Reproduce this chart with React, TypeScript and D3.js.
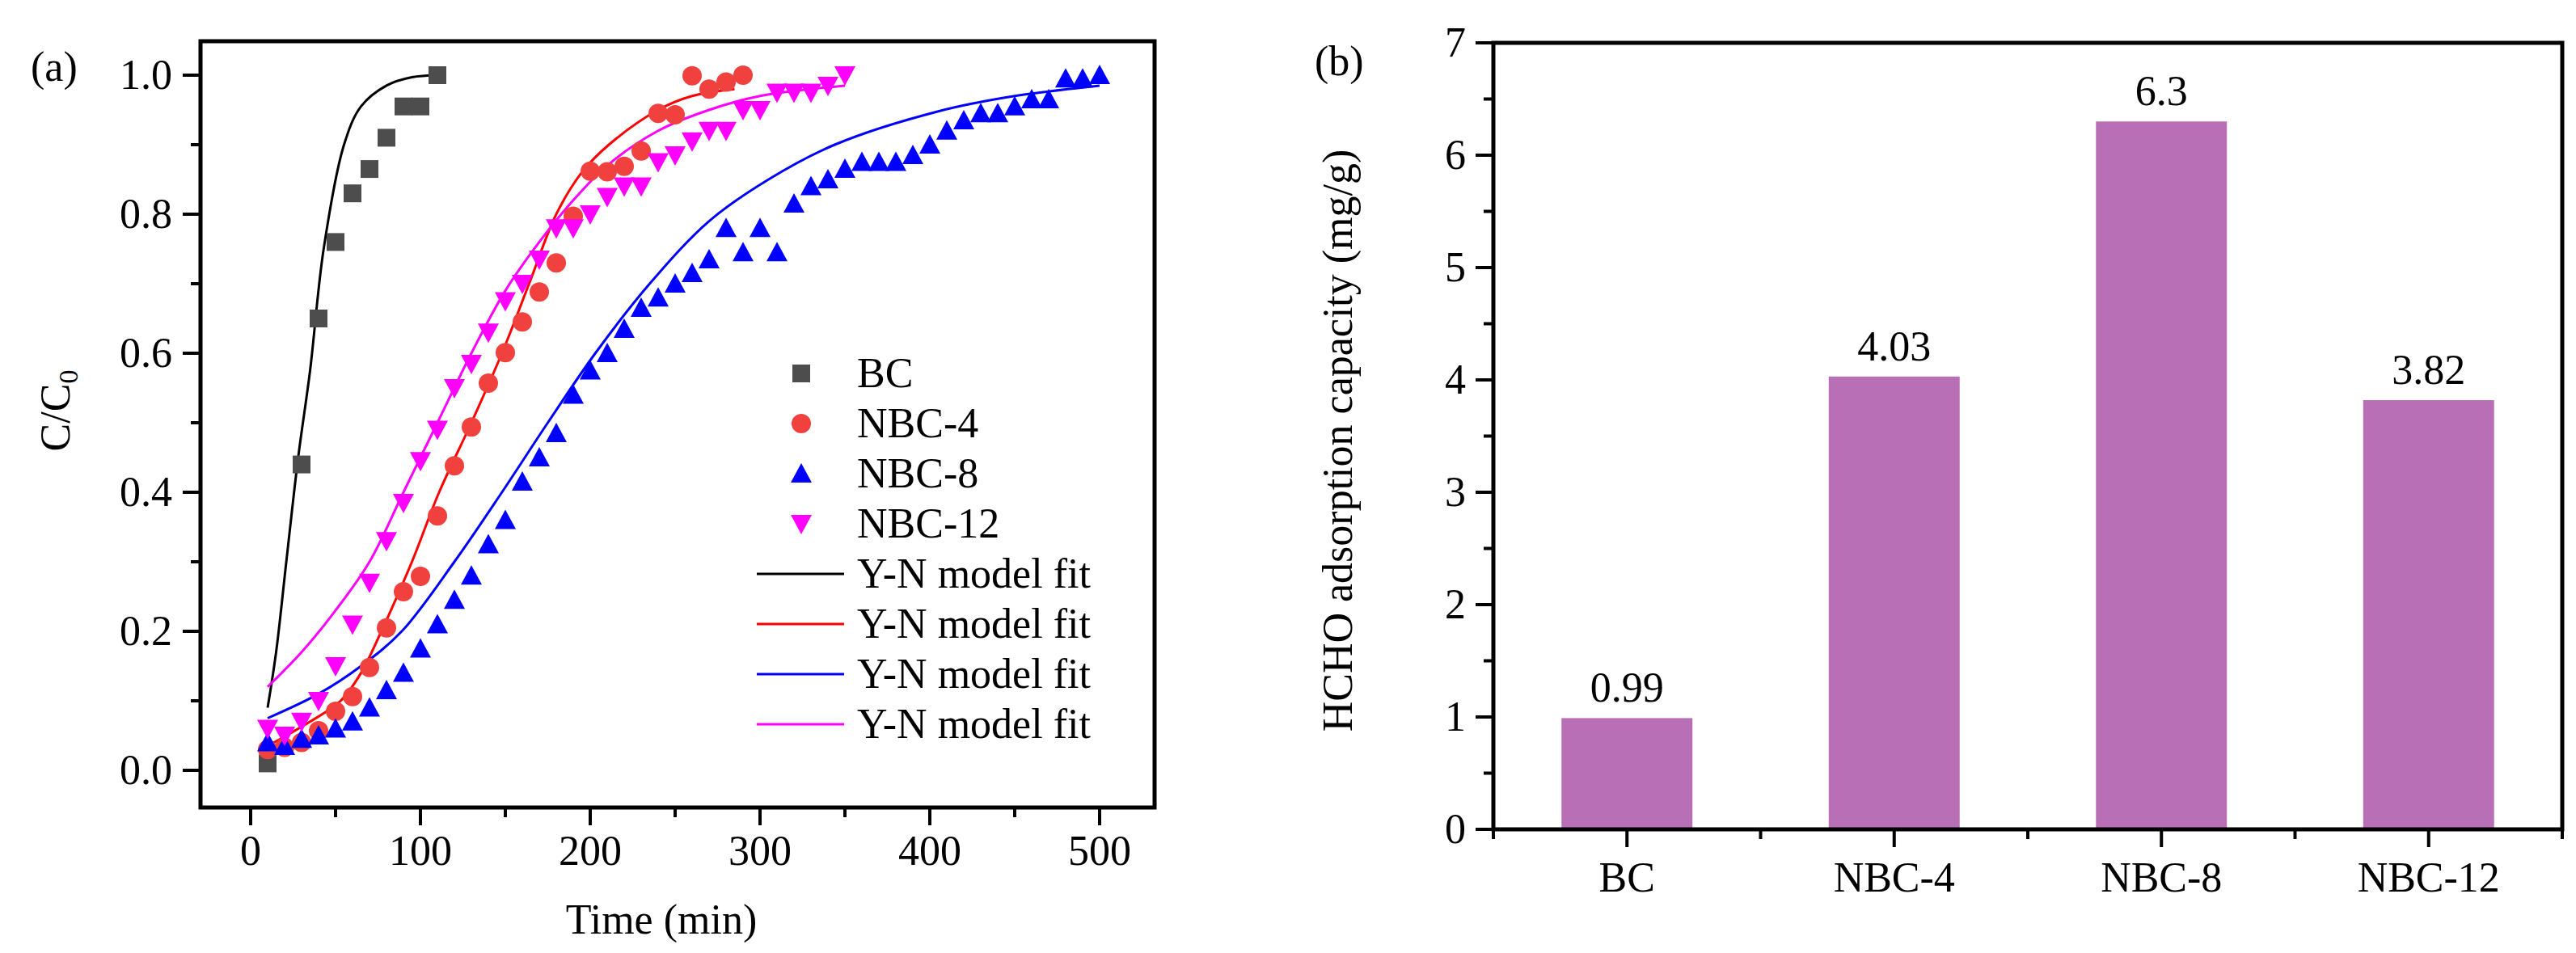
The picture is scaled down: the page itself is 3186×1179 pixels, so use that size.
import React from "react"
import * as d3 from "d3"

// ---- panel (a) data ----
const bcT = [10, 30, 40, 50, 60, 70, 80, 90, 100, 110]
const bcV = [0.01, 0.44, 0.65, 0.76, 0.83, 0.865, 0.91, 0.955, 0.955, 1.0]

const nbc4T = [10, 20, 30, 40, 50, 60, 70, 80, 90, 100, 110, 120, 130, 140, 150, 160, 170, 180, 190, 200, 210, 220, 230, 240, 250, 260, 270, 280, 290]
const nbc4V = [0.03, 0.033, 0.04, 0.057, 0.085, 0.106, 0.148, 0.205, 0.257, 0.279, 0.366, 0.438, 0.494, 0.557, 0.601, 0.645, 0.688, 0.73, 0.797, 0.862, 0.861, 0.869, 0.891, 0.945, 0.943, 0.999, 0.98, 0.99, 1.0]

const nbc8T = d3.range(10, 501, 10)
const nbc8V = [0.04, 0.035, 0.045, 0.05, 0.06, 0.07, 0.09, 0.115, 0.14, 0.175, 0.21, 0.245, 0.28, 0.325, 0.36, 0.415, 0.45, 0.485, 0.54, 0.575, 0.6, 0.635, 0.665, 0.68, 0.7, 0.715, 0.735, 0.78, 0.745, 0.78, 0.745, 0.815, 0.84, 0.85, 0.865, 0.875, 0.875, 0.875, 0.885, 0.9, 0.92, 0.935, 0.945, 0.945, 0.955, 0.965, 0.965, 0.995, 0.995, 1.0]

const nbc12T = d3.range(10, 351, 10)
const nbc12V = [0.06, 0.05, 0.07, 0.1, 0.15, 0.21, 0.27, 0.33, 0.385, 0.445, 0.49, 0.55, 0.585, 0.63, 0.675, 0.7, 0.735, 0.78, 0.78, 0.8, 0.825, 0.84, 0.84, 0.875, 0.885, 0.905, 0.92, 0.92, 0.95, 0.95, 0.975, 0.975, 0.975, 0.985, 1.0]

// fitted curves
const fitBC: [number, number][] = [[10, 0.09], [15, 0.17], [21, 0.3], [28, 0.45], [35, 0.575], [43, 0.75], [55, 0.9], [65, 0.955], [80, 0.985], [95, 0.997], [110, 1.0]]
const fit4: [number, number][] = [[10, 0.035], [21, 0.05], [35, 0.07], [53, 0.1], [65, 0.14], [77, 0.2], [95, 0.3], [111, 0.4], [130, 0.5], [148, 0.6], [164, 0.7], [180, 0.8], [195, 0.86], [211, 0.9], [240, 0.95], [260, 0.97], [285, 0.98]]
const fit8: [number, number][] = [[10, 0.075], [40, 0.11], [65, 0.15], [89, 0.2], [120, 0.3], [148, 0.4], [175, 0.5], [203, 0.6], [235, 0.7], [270, 0.79], [305, 0.85], [344, 0.9], [405, 0.948], [450, 0.97], [500, 0.985]]
const fit12: [number, number][] = [[10, 0.12], [30, 0.17], [50, 0.23], [70, 0.3], [90, 0.4], [110, 0.5], [130, 0.6], [150, 0.69], [170, 0.76], [190, 0.82], [210, 0.87], [240, 0.92], [270, 0.95], [300, 0.97], [350, 0.985]]

const xTicksA = [0, 100, 200, 300, 400, 500]
const yTicksA = [0, 0.2, 0.4, 0.6, 0.8, 1.0]

// ---- panel (b) data ----
const samples = ["BC", "NBC-4", "NBC-8", "NBC-12"]
const capacity = [0.99, 4.03, 6.3, 3.82]
const capLabels = ["0.99", "4.03", "6.3", "3.82"]
const yTicksB = [0, 1, 2, 3, 4, 5, 6, 7]

const FONT = "'Liberation Serif', 'Times New Roman', serif"
const FS = 52

type Shape = "square" | "circle" | "up" | "down"

function Marker({ x, y, shape, color }: { x: number; y: number; shape: Shape; color: string }) {
  const s = 11
  if (shape === "square") return <rect x={x - s} y={y - s} width={2 * s} height={2 * s} fill={color} />
  if (shape === "circle") return <circle cx={x} cy={y} r={s + 1} fill={color} />
  if (shape === "up") return <path d={`M${x},${y - s - 2}L${x + s + 2},${y + s}L${x - s - 2},${y + s}Z`} fill={color} />
  return <path d={`M${x},${y + s + 2}L${x + s + 2},${y - s}L${x - s - 2},${y - s}Z`} fill={color} />
}

export default function App() {
  // panel a
  const boxA = { l: 240, r: 1420, t: 43, b: 991 }
  const xA = d3.scaleLinear().domain([0, 500]).range([302, 1352])
  const yA = d3.scaleLinear().domain([0, 1]).range([945, 85])
  const line = d3.line<[number, number]>().x(d => xA(d[0])).y(d => yA(d[1])).curve(d3.curveCatmullRom)

  const series = [
    { name: "BC", t: bcT, v: bcV, shape: "square" as Shape, color: "#4d4d4d" },
    { name: "NBC-4", t: nbc4T, v: nbc4V, shape: "circle" as Shape, color: "#f0413e" },
    { name: "NBC-8", t: nbc8T, v: nbc8V, shape: "up" as Shape, color: "#0000ff" },
    { name: "NBC-12", t: nbc12T, v: nbc12V, shape: "down" as Shape, color: "#ff00ff" },
  ]
  const fits = [
    { d: fitBC, color: "#000000" },
    { d: fit4, color: "#ff0000" },
    { d: fit8, color: "#0000ff" },
    { d: fit12, color: "#ff00ff" },
  ]

  // panel b
  const boxB = { l: 1839, r: 3161, t: 45, b: 1018 }
  const xB = d3.scalePoint<string>().domain(samples).range([boxB.l, boxB.r]).padding(0.5)
  const yB = d3.scaleLinear().domain([0, 7]).range([1018, 45])
  const barW = xB.step() * 0.49

  return (
    <svg width={3186} height={1179} style={{ display: "block", background: "#fff" }} fontFamily={FONT}>
      {/* ===== panel (a) ===== */}
      <text x={30} y={92} fontSize={FS}>(a)</text>
      {fits.map((f, i) => (
        <path key={i} d={line(f.d) || ""} fill="none" stroke={f.color} strokeWidth={3} />
      ))}
      {series.map(s =>
        s.t.map((t, i) => <Marker key={s.name + i} x={xA(t)} y={yA(s.v[i])} shape={s.shape} color={s.color} />)
      )}
      <rect x={boxA.l} y={boxA.t} width={boxA.r - boxA.l} height={boxA.b - boxA.t} fill="none" stroke="#000" strokeWidth={5} />
      {d3.range(0, 501, 50).map(t => (
        <line key={"xm" + t} x1={xA(t)} x2={xA(t)} y1={boxA.b} y2={boxA.b + (t % 100 === 0 ? 22 : 12)} stroke="#000" strokeWidth={4} />
      ))}
      {xTicksA.map(t => (
        <text key={"xl" + t} x={xA(t)} y={1062} fontSize={FS} textAnchor="middle">{t}</text>
      ))}
      {d3.range(0, 1.01, 0.1).map(v => (
        <line key={"ym" + v} x1={boxA.l} x2={boxA.l - (Math.round(v * 10) % 2 === 0 ? 22 : 12)} y1={yA(v)} y2={yA(v)} stroke="#000" strokeWidth={4} />
      ))}
      {yTicksA.map(v => (
        <text key={"yl" + v} x={205} y={yA(v) + 17} fontSize={FS} textAnchor="end">{v.toFixed(1)}</text>
      ))}
      <text x={810} y={1147} fontSize={FS} textAnchor="middle">Time (min)</text>
      <text transform="translate(78,500) rotate(-90)" fontSize={FS} textAnchor="middle">
        C/C<tspan fontSize={34} dy={10}>0</tspan>
      </text>
      {/* legend */}
      {series.map((s, i) => (
        <g key={"lg" + s.name}>
          <Marker x={983} y={454 + i * 62} shape={s.shape} color={s.color} />
          <text x={1052} y={454 + i * 62 + 17} fontSize={FS}>{s.name}</text>
        </g>
      ))}
      {fits.map((f, i) => (
        <g key={"lf" + i}>
          <line x1={928} x2={1036} y1={702 + i * 62} y2={702 + i * 62} stroke={f.color} strokeWidth={3} />
          <text x={1052} y={702 + i * 62 + 17} fontSize={FS}>Y-N model fit</text>
        </g>
      ))}

      {/* ===== panel (b) ===== */}
      <text x={1618} y={85} fontSize={FS}>(b)</text>
      {samples.map((s, i) => (
        <g key={"bar" + s}>
          <rect x={(xB(s) as number) - barW / 2} y={yB(capacity[i])} width={barW} height={yB(0) - yB(capacity[i])} fill="#b86fb6" />
          <text x={xB(s) as number} y={yB(capacity[i]) - 20} fontSize={FS} textAnchor="middle">{capLabels[i]}</text>
          <text x={xB(s) as number} y={1095} fontSize={FS} textAnchor="middle">{s}</text>
          <line x1={xB(s) as number} x2={xB(s) as number} y1={boxB.b} y2={boxB.b + 22} stroke="#000" strokeWidth={4} />
          <line x1={(xB(s) as number) + xB.step() / 2} x2={(xB(s) as number) + xB.step() / 2} y1={boxB.b} y2={boxB.b + 12} stroke="#000" strokeWidth={4} />
        </g>
      ))}
      <line x1={boxB.l} x2={boxB.l} y1={boxB.b} y2={boxB.b + 12} stroke="#000" strokeWidth={4} />
      <rect x={boxB.l} y={boxB.t} width={boxB.r - boxB.l} height={boxB.b - boxB.t} fill="none" stroke="#000" strokeWidth={5} />
      {d3.range(0, 7.01, 0.5).map(v => (
        <line key={"ybm" + v} x1={boxB.l} x2={boxB.l - (v % 1 === 0 ? 22 : 12)} y1={yB(v)} y2={yB(v)} stroke="#000" strokeWidth={4} />
      ))}
      {yTicksB.map(v => (
        <text key={"ybl" + v} x={1805} y={yB(v) + 17} fontSize={FS} textAnchor="end">{v}</text>
      ))}
      <text transform="translate(1664,537) rotate(-90)" fontSize={FS} textAnchor="middle">HCHO adsorption capacity (mg/g)</text>
    </svg>
  )
}
